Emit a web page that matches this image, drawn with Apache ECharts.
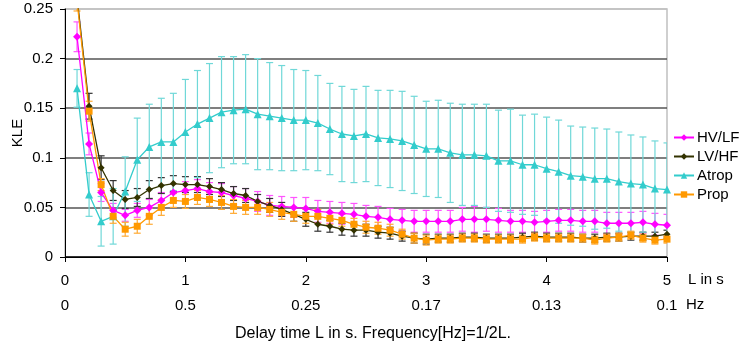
<!DOCTYPE html>
<html>
<head>
<meta charset="utf-8">
<script src="https://cdn.jsdelivr.net/npm/echarts@6/dist/echarts.min.js"></script>
<style>html,body{margin:0;padding:0;background:#fff;}#c{width:744px;height:344px;}</style>
</head>
<body>
<div id="c"></div>
<script>
const xValues = [0.1,0.2,0.3,0.4,0.5,0.6,0.7,0.8,0.9,1.0,1.1,1.2,1.3,1.4,1.5,1.6,1.7,1.8,1.9,2.0,2.1,2.2,2.3,2.4,2.5,2.6,2.7,2.8,2.9,3.0,3.1,3.2,3.3,3.4,3.5,3.6,3.7,3.8,3.9,4.0,4.1,4.2,4.3,4.4,4.5,4.6,4.7,4.8,4.9,5.0];
const hvlf = [0.222,0.114,0.065,0.047,0.042,0.047,0.050,0.057,0.065,0.067,0.069,0.066,0.065,0.062,0.059,0.056,0.052,0.051,0.050,0.049,0.046,0.045,0.044,0.043,0.041,0.040,0.038,0.037,0.036,0.036,0.036,0.036,0.038,0.038,0.038,0.037,0.036,0.036,0.035,0.036,0.037,0.037,0.036,0.036,0.034,0.034,0.034,0.035,0.033,0.032];
const lvhf = [0.262,0.152,0.090,0.067,0.058,0.060,0.068,0.072,0.074,0.073,0.073,0.071,0.068,0.064,0.062,0.056,0.052,0.048,0.043,0.038,0.033,0.031,0.028,0.027,0.027,0.025,0.024,0.021,0.019,0.018,0.019,0.019,0.020,0.020,0.019,0.019,0.019,0.020,0.021,0.020,0.020,0.020,0.019,0.019,0.020,0.020,0.021,0.021,0.021,0.023];
const atrop = [0.170,0.063,0.036,0.041,0.066,0.098,0.111,0.116,0.116,0.126,0.134,0.140,0.146,0.148,0.149,0.144,0.142,0.140,0.138,0.138,0.135,0.129,0.124,0.122,0.124,0.120,0.119,0.117,0.113,0.109,0.109,0.105,0.103,0.103,0.102,0.097,0.097,0.093,0.093,0.089,0.086,0.082,0.081,0.079,0.079,0.076,0.074,0.073,0.069,0.068];
const prop = [0.258,0.147,0.073,0.041,0.028,0.031,0.041,0.050,0.057,0.056,0.060,0.058,0.055,0.051,0.050,0.050,0.048,0.045,0.043,0.041,0.041,0.039,0.037,0.033,0.030,0.029,0.027,0.023,0.019,0.017,0.018,0.018,0.019,0.019,0.018,0.018,0.018,0.018,0.020,0.019,0.019,0.019,0.019,0.017,0.019,0.020,0.022,0.019,0.017,0.018];
const hvlfErr = [0.015,0.011,0.009,0.007,0.006,0.007,0.008,0.008,0.009,0.009,0.009,0.009,0.009,0.009,0.010,0.010,0.010,0.010,0.010,0.011,0.011,0.011,0.011,0.011,0.011,0.011,0.011,0.011,0.011,0.011,0.011,0.011,0.012,0.013,0.012,0.012,0.011,0.011,0.011,0.011,0.011,0.011,0.011,0.011,0.011,0.011,0.011,0.011,0.011,0.011];
const lvhfErr = [0.010,0.013,0.012,0.010,0.009,0.009,0.009,0.008,0.008,0.008,0.008,0.008,0.007,0.007,0.007,0.007,0.007,0.007,0.007,0.007,0.007,0.006,0.006,0.006,0.006,0.006,0.006,0.005,0.005,0.005,0.004,0.004,0.004,0.004,0.004,0.004,0.004,0.004,0.004,0.004,0.004,0.004,0.004,0.004,0.004,0.004,0.004,0.004,0.004,0.004];
const atropErr = [0.019,0.022,0.025,0.028,0.035,0.042,0.043,0.044,0.049,0.053,0.054,0.055,0.056,0.054,0.055,0.056,0.054,0.053,0.051,0.050,0.048,0.046,0.048,0.047,0.048,0.048,0.049,0.050,0.049,0.048,0.049,0.050,0.051,0.051,0.052,0.051,0.052,0.050,0.051,0.052,0.052,0.050,0.050,0.051,0.050,0.050,0.049,0.048,0.048,0.047];
const propErr = [0.010,0.010,0.006,0.007,0.007,0.007,0.008,0.008,0.007,0.007,0.007,0.007,0.007,0.007,0.007,0.007,0.007,0.007,0.007,0.007,0.007,0.006,0.006,0.006,0.006,0.006,0.006,0.005,0.005,0.005,0.004,0.004,0.004,0.004,0.004,0.004,0.004,0.004,0.004,0.004,0.004,0.004,0.004,0.004,0.004,0.004,0.004,0.004,0.004,0.004];
const seriesNames = ['HV/LF','LV/HF','Atrop','Prop'];
const lTickLabels = ['0','1','2','3','4','5'];
const hzTickLabels = ['0','0.5','0.25','0.17','0.13','0.1'];
const yTickLabels = ['0','0.05','0.1','0.15','0.2','0.25'];

const FONT = 'Liberation Sans, Arial, sans-serif';
const colors = ['#FF00FF','#333300','#33CCCC','#FF9900'];
const errColors = ['#FF55FF','#333333','#70D8D8','#FFAA33'];
const symbols = ['diamond','diamond','triangle','rect'];
const symbolSizes = [8,7,8,7];
const vals = [hvlf, lvhf, atrop, prop];
const errs = [hvlfErr, lvhfErr, atropErr, propErr];

function errRender(col){
  return function(params, api){
    const x = api.value(0), lo = api.value(1), hi = api.value(2);
    const a = api.coord([x, hi]), b = api.coord([x, lo]);
    const w = 3.5;
    const st = {stroke: col, lineWidth: 1.2};
    return {type:'group', children:[
      {type:'line', shape:{x1:a[0],y1:a[1],x2:b[0],y2:b[1]}, style:st},
      {type:'line', shape:{x1:a[0]-w,y1:a[1],x2:a[0]+w,y2:a[1]}, style:st},
      {type:'line', shape:{x1:b[0]-w,y1:b[1],x2:b[0]+w,y2:b[1]}, style:st}
    ]};
  };
}

const series = [];
for (let s = 0; s < 4; s++) {
  series.push({
    type:'custom', name: seriesNames[s] + ' err', clip: true, z: 1,
    renderItem: errRender(errColors[s]),
    encode: {x:0, y:[1,2]},
    data: xValues.map((x,i)=>[x, vals[s][i]-errs[s][i], vals[s][i]+errs[s][i]]),
    silent: true
  });
}
for (let s = 0; s < 4; s++) {
  series.push({
    type:'line', name: seriesNames[s], z: 3, clip: true,
    data: xValues.map((x,i)=>[x, vals[s][i]]),
    symbol: symbols[s], symbolSize: symbolSizes[s],
    lineStyle:{color: colors[s], width: 1.3},
    itemStyle:{color: colors[s]},
    animation:false
  });
}

const chart = echarts.init(document.getElementById('c'), null, {renderer:'canvas'});
chart.setOption({
  animation:false,
  backgroundColor:'#fff',
  grid:{left:65, right:77, top:9, bottom:87, show:true, borderColor:'#c0c0c0', borderWidth:1.5, outerBoundsMode:'none', containLabel:false},
  title:{text:'Delay time L in s. Frequency[Hz]=1/2L.', left:368, textAlign:'center', top:321,
    textStyle:{fontFamily:FONT, fontSize:16, fontWeight:'normal', color:'#000'}},
  legend:{orient:'vertical', left:668, top:125, itemWidth:20, itemHeight:8, itemGap:4,
    data: seriesNames, textStyle:{fontFamily:FONT, fontSize:15, color:'#000', padding:[0,0,0,-2]}},
  xAxis:[{
    type:'value', min:0, max:5, interval:1,
    axisLine:{lineStyle:{color:'#000', width:1}},
    axisTick:{show:true, inside:false, length:5, lineStyle:{color:'#000'}},
    axisLabel:{fontFamily:FONT, fontSize:15, color:'#000', margin:16, formatter:(v)=>lTickLabels[Math.round(v)]},
    splitLine:{show:false}
  },{
    type:'value', min:0, max:5, interval:1, position:'bottom', offset:25,
    axisLine:{show:false}, axisTick:{show:false},
    axisLabel:{fontFamily:FONT, fontSize:15, color:'#000', margin:16, formatter:(v)=>hzTickLabels[Math.round(v)]},
    splitLine:{show:false}
  }],
  yAxis:{
    type:'value', min:0, max:0.25, interval:0.05,
    name:'KLE', nameLocation:'middle', nameGap:40, nameMoveOverlap:false,
    nameTextStyle:{fontFamily:FONT, fontSize:15, color:'#000'},
    axisLine:{show:true, lineStyle:{color:'#000', width:1}},
    axisTick:{show:true, length:5, lineStyle:{color:'#000'}},
    axisLabel:{fontFamily:FONT, fontSize:15, color:'#000', margin:12, formatter:(v)=>yTickLabels[Math.round(v/0.05)]},
    splitLine:{show:true, lineStyle:{color:['#000','#555','#555','#555','#555','#c0c0c0'], width:1.6}}
  },
  graphic:[
    {type:'text', left:688, top:272, style:{text:'L in s', font:'15px '+FONT, fill:'#000'}},
    {type:'text', left:686, top:297, style:{text:'Hz', font:'15px '+FONT, fill:'#000'}}
  ],
  series: series
});
</script>
</body>
</html>
